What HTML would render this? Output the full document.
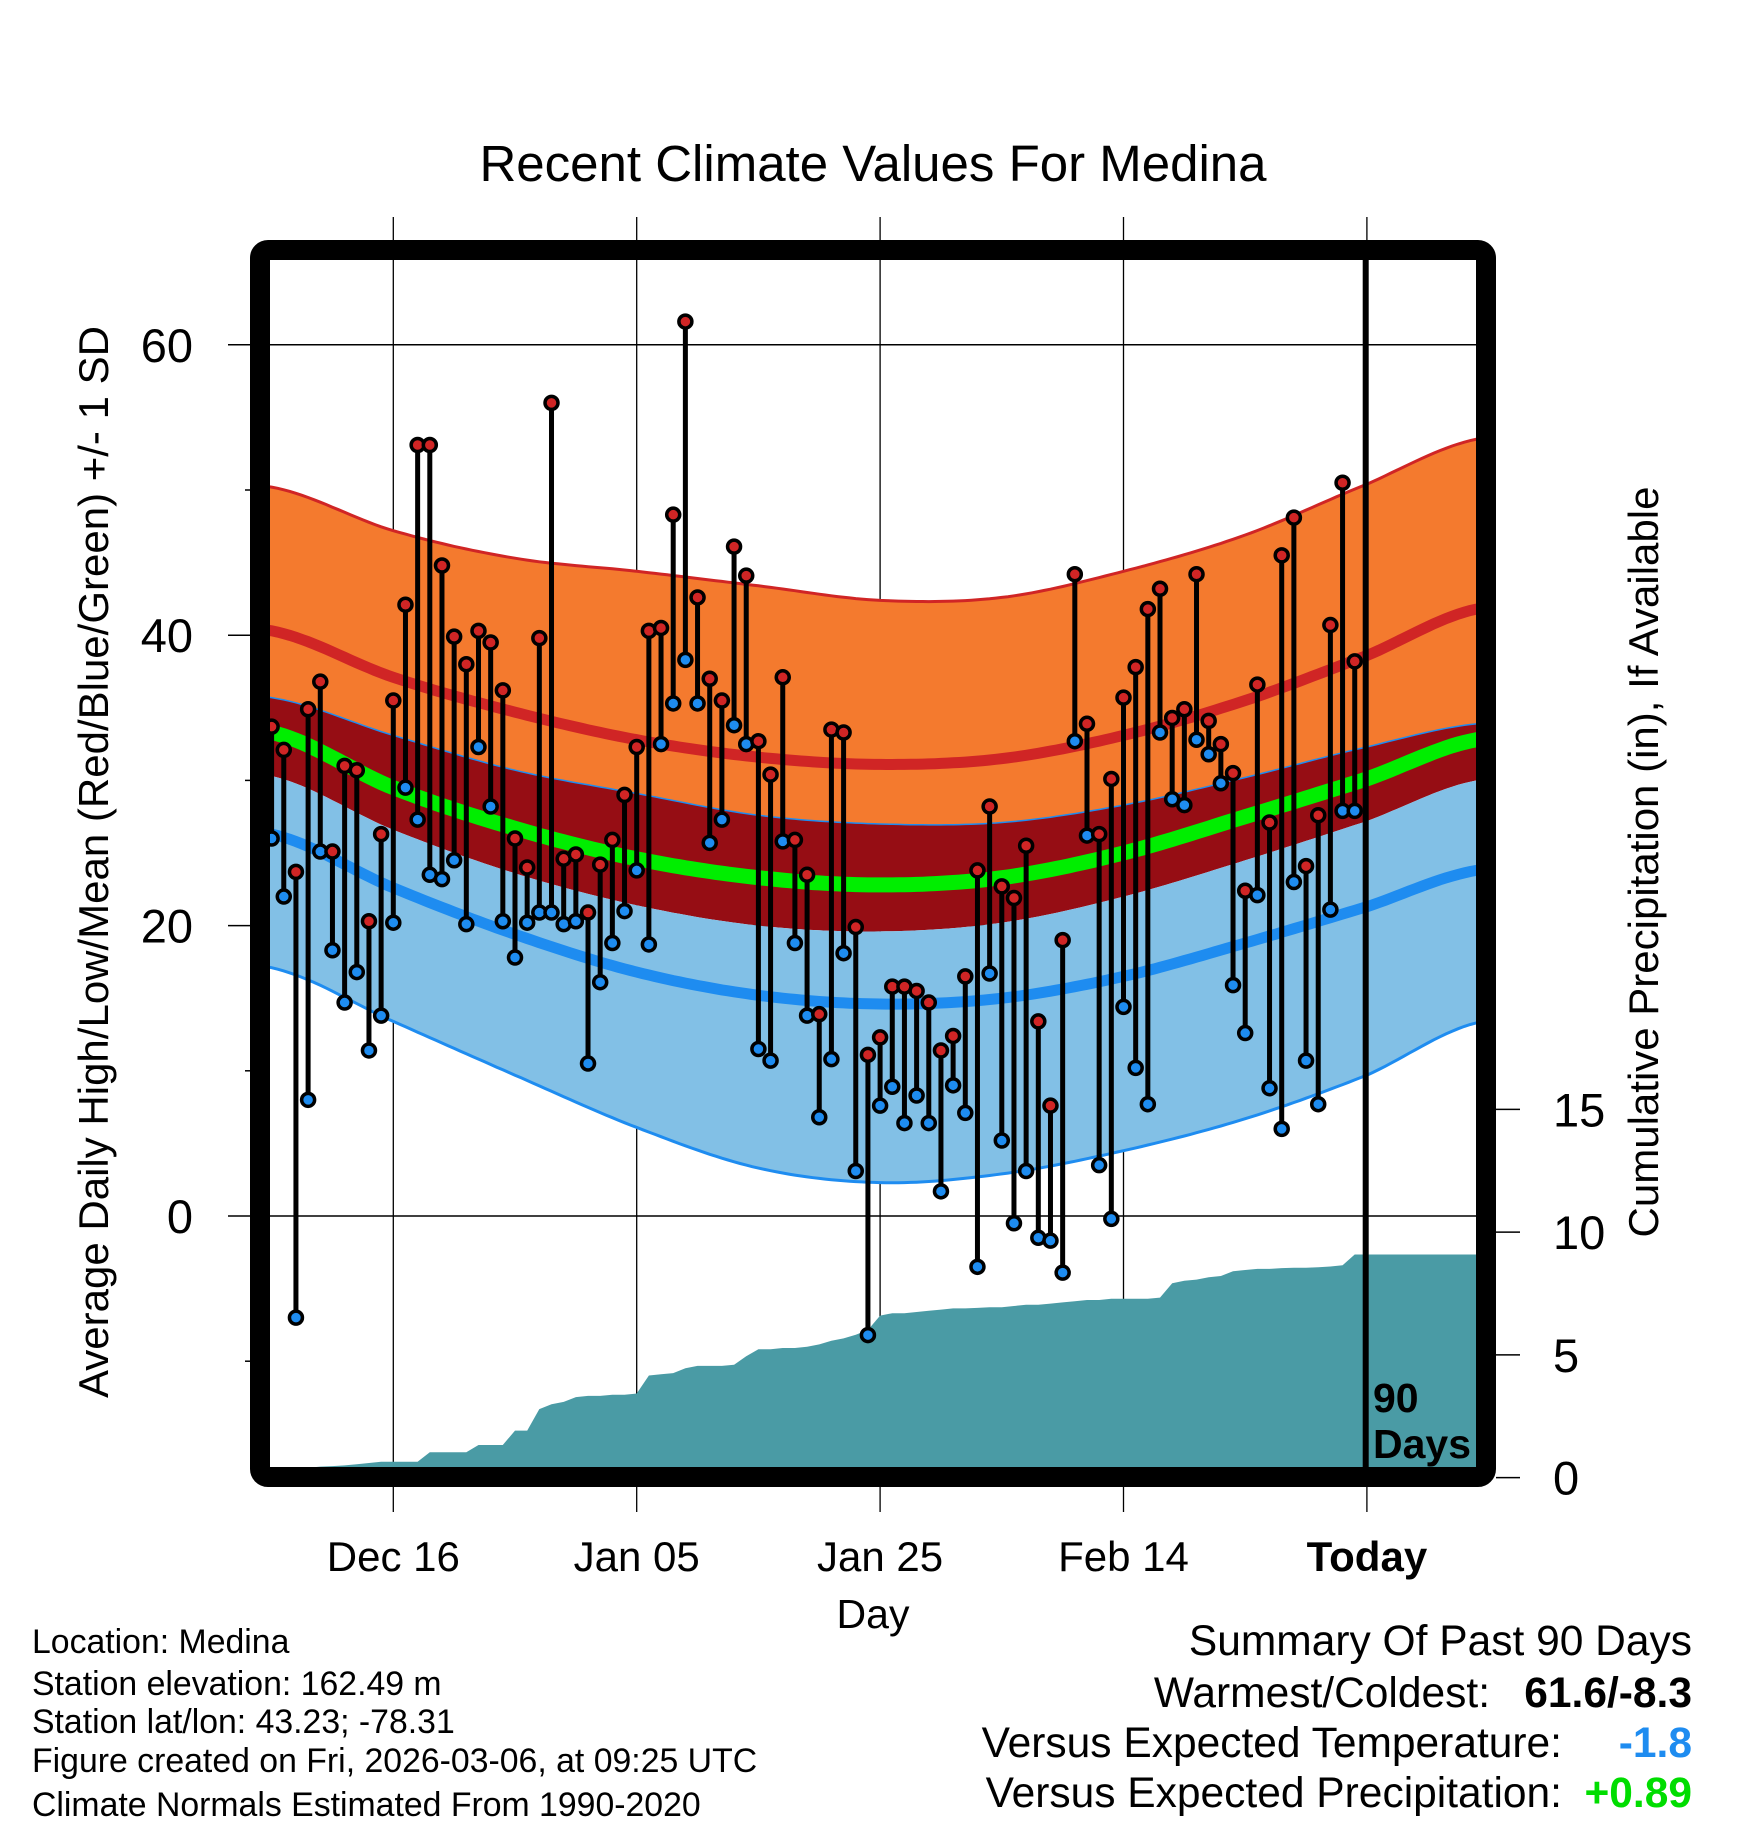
<!DOCTYPE html>
<html><head><meta charset="utf-8"><style>
html,body{margin:0;padding:0;background:#fff}
svg{display:block}
text{font-family:"Liberation Sans",Arial,sans-serif}
</style></head><body>
<svg id="chart" width="1748" height="1828" viewBox="0 0 1748 1828" xmlns="http://www.w3.org/2000/svg">
<defs><clipPath id="plotclip"><rect x="270" y="260" width="1206" height="1207"/></clipPath></defs>
<text x="873" y="181" font-size="51" text-anchor="middle">Recent Climate Values For Medina</text>
<g id="grid"></g>
<g id="bands" clip-path="url(#plotclip)"></g>
<g id="precip" clip-path="url(#plotclip)"></g>
<g id="marks"></g>
<line x1="1365.7" y1="255" x2="1365.7" y2="1472" stroke="#000" stroke-width="6"/>
<text x="1373" y="1412" font-size="41" font-weight="bold">90</text>
<text x="1373" y="1458" font-size="41" font-weight="bold">Days</text>
<rect x="260" y="250" width="1226" height="1227" rx="8" fill="none" stroke="#000" stroke-width="20"/>
<g id="axes"></g>
<text transform="translate(108,862) rotate(-90)" font-size="42" text-anchor="middle">Average Daily High/Low/Mean (Red/Blue/Green) +/- 1 SD</text>
<text transform="translate(1658,862) rotate(-90)" font-size="42" text-anchor="middle">Cumulative Precipitation (in), If Available</text>
<text x="873" y="1628" font-size="41" text-anchor="middle">Day</text>
<g font-size="33.8">
<text x="32" y="1653">Location: Medina</text>
<text x="32" y="1695">Station elevation: 162.49 m</text>
<text x="32" y="1733">Station lat/lon: 43.23; -78.31</text>
<text x="32" y="1772">Figure created on Fri, 2026-03-06, at 09:25 UTC</text>
<text x="32" y="1816">Climate Normals Estimated From 1990-2020</text>
</g>
<g font-size="42.5">
<text x="1692" y="1655" text-anchor="end">Summary Of Past 90 Days</text>
<text x="1490" y="1707" text-anchor="end">Warmest/Coldest:</text>
<text x="1692" y="1707" text-anchor="end" font-weight="bold">61.6/-8.3</text>
<text x="1562" y="1757" text-anchor="end">Versus Expected Temperature:</text>
<text x="1692" y="1757" text-anchor="end" font-weight="bold" fill="#1E8CF0">-1.8</text>
<text x="1562" y="1807" text-anchor="end">Versus Expected Precipitation:</text>
<text x="1692" y="1807" text-anchor="end" font-weight="bold" fill="#00DD00">+0.89</text>
</g>
</svg>
<script>
// day index relative to Dec 16 (data days -10 .. 79)
const startDay = -10;
const highs = [33.7,32.1,23.7,34.9,36.8,25.1,31.0,30.7,20.3,26.3,35.5,42.1,53.1,53.1,44.8,39.9,38.0,40.3,39.5,36.2,26.0,24.0,39.8,56.0,24.6,24.9,20.9,24.2,25.9,29.0,32.3,40.3,40.5,48.3,61.6,42.6,37.0,35.5,46.1,44.1,32.7,30.4,37.1,25.9,23.5,13.9,33.5,33.3,19.9,11.1,12.3,15.8,15.8,15.5,14.7,11.4,12.4,16.5,23.8,28.2,22.7,21.9,25.5,13.4,7.6,19.0,44.2,33.9,26.3,30.1,35.7,37.8,41.8,43.2,34.3,34.9,44.2,34.1,32.5,30.5,22.4,36.6,27.1,45.5,48.1,24.1,27.6,40.7,50.5,38.2];
const lows = [26.0,22.0,-7.0,8.0,25.1,18.3,14.7,16.8,11.4,13.8,20.2,29.5,27.3,23.5,23.2,24.5,20.1,32.3,28.2,20.3,17.8,20.2,20.9,20.9,20.1,20.3,10.5,16.1,18.8,21.0,23.8,18.7,32.5,35.3,38.3,35.3,25.7,27.3,33.8,32.5,11.5,10.7,25.8,18.8,13.8,6.8,10.8,18.1,3.1,-8.2,7.6,8.9,6.4,8.3,6.4,1.7,9.0,7.1,-3.5,16.7,5.2,-0.5,3.1,-1.5,-1.7,-3.9,32.7,26.2,3.5,-0.2,14.4,10.2,7.7,33.3,28.7,28.3,32.8,31.8,29.8,15.9,12.6,22.1,8.8,6.0,23.0,10.7,7.7,21.1,27.9,27.9];
const precip = [0,0,0,0.05,0.1,0.12,0.15,0.2,0.25,0.3,0.3,0.3,0.3,0.7,0.7,0.7,0.7,1.0,1.0,1.0,1.6,1.6,2.5,2.7,2.8,3.0,3.05,3.05,3.1,3.1,3.15,3.9,3.95,4.0,4.2,4.3,4.3,4.3,4.35,4.7,5.0,5.0,5.05,5.05,5.1,5.2,5.35,5.45,5.6,5.8,6.4,6.5,6.5,6.55,6.6,6.65,6.7,6.7,6.72,6.75,6.75,6.8,6.85,6.85,6.9,6.95,7.0,7.05,7.05,7.1,7.1,7.1,7.1,7.15,7.75,7.85,7.9,8.0,8.05,8.25,8.3,8.35,8.35,8.38,8.4,8.4,8.42,8.45,8.5,8.95];
// normals sampled every 10 days from day -10 to 80, plus day 89
const normDays = [-10,0,10,20,30,40,50,60,70,80,89];
const upperSD = [50.2,47.2,45.3,44.4,43.4,42.4,42.6,44.4,46.9,50.4,53.5];
const meanHigh = [40.3,37.1,34.7,32.8,31.6,31.1,31.5,33.1,35.5,38.6,41.8];
const highMinusSD = [35.7,33.1,30.7,29.1,27.6,27.0,27.1,28.3,30.2,32.3,33.9];
const meanTemp = [33.3,29.5,26.7,24.6,23.3,22.8,23.3,25.0,27.5,30.1,32.8];
const lowPlusSD = [30.3,26.6,23.6,21.4,20.0,19.6,20.2,22.0,24.5,27.2,30.0];
const meanLow = [26.3,22.6,19.4,16.8,15.2,14.6,15.0,16.5,18.8,21.3,23.8];
const lowerSD = [17.1,13.4,9.7,6.1,3.3,2.3,2.9,4.5,6.7,9.7,13.3];
const xTickDays = [0,20,40,60,80];
const xTickLabels = ["Dec 16","Jan 05","Jan 25","Feb 14","Today"];
const yTicks = [0,20,40,60];
const yMinor = [-10,10,30,50];
const pTicks = [0,5,10,15];

const NS="http://www.w3.org/2000/svg";
const X = d => 393.3 + d*12.17;
const Y = t => 1216 - t*14.52;
const P = p => 1469 - p*23.97;
function mk(tag, attrs, parent){const e=document.createElementNS(NS,tag);for(const k in attrs)e.setAttribute(k,attrs[k]);parent.appendChild(e);return e;}

function interp(arr, d){
  let i=0; while(i<normDays.length-2 && d>normDays[i+1]) i++;
  const d0=normDays[i], d1=normDays[i+1], t=(d-d0)/(d1-d0);
  const p0=arr[Math.max(0,i-1)], p1=arr[i], p2=arr[i+1], p3=arr[Math.min(arr.length-1,i+2)];
  return 0.5*((2*p1)+(-p0+p2)*t+(2*p0-5*p1+4*p2-p3)*t*t+(-p0+3*p1-3*p2+p3)*t*t*t);
}
const ds=[]; for(let d=-11; d<=90.5; d+=0.5) ds.push(d);
function curve(arr){return ds.map(d=>[X(d),Y(interp(arr,d))]);}
function band(a,b,fill,name){
  const top=curve(a), bot=curve(b).reverse();
  const pts=top.concat(bot).map(p=>p[0].toFixed(1)+','+p[1].toFixed(1)).join(' ');
  const el=mk('polygon',{points:pts,fill:fill},document.getElementById('bands'));
  
  
}
function line(arr,color,w,name){
  const pts=curve(arr).map(p=>p[0].toFixed(1)+','+p[1].toFixed(1)).join(' ');
  const el=mk('polyline',{points:pts,fill:'none',stroke:color,'stroke-width':w},document.getElementById('bands'));
  
  
}
band(upperSD,highMinusSD,'#F47A2E','high-sd-band');
band(highMinusSD,lowPlusSD,'#960D14','mean-band');
band(lowPlusSD,lowerSD,'#82C0E6','low-sd-band');
line(upperSD,'#D02525',3,'upper-sd-line');
line(meanHigh,'#D02525',11,'mean-high-line');
line(highMinusSD,'#1E8CF0',1.5,'high-minus-sd-line');
line(meanTemp,'#00EE00',15,'mean-temp-line');
line(meanLow,'#1E8CF0',11,'mean-low-line');
line(lowerSD,'#1E8CF0',3,'lower-sd-line');

const g=document.getElementById('grid');
xTickDays.forEach(d=>{const l=mk('line',{x1:X(d),y1:217,x2:X(d),y2:1512,stroke:'#000','stroke-width':1.3},g);
  
  });
yTicks.forEach(t=>{const l=mk('line',{x1:228,y1:Y(t),x2:1476,y2:Y(t),stroke:'#000','stroke-width':1.5},g);
  
  });

const pp=[[X(startDay),P(0)]];
precip.forEach((v,i)=>pp.push([X(startDay+i),P(v)]));
pp.push([1480,P(precip[precip.length-1])]);pp.push([1480,1480]);pp.push([X(startDay),1480]);
const pel=mk('polygon',{points:pp.map(p=>p[0].toFixed(1)+','+p[1].toFixed(1)).join(' '),fill:'#4A9BA5'},document.getElementById('precip'));



const m=document.getElementById('marks');
highs.forEach((h,i)=>{
  const x=X(startDay+i), lo=lows[i];
  const st=mk('line',{x1:x,y1:Y(h),x2:x,y2:Y(lo),stroke:'#000','stroke-width':5},m);
  
  
});
highs.forEach((h,i)=>{
  const x=X(startDay+i), lo=lows[i];
  const c1=mk('circle',{cx:x,cy:Y(lo),r:6.5,fill:'#1E8CF0',stroke:'#000','stroke-width':3.5},m);
  
  
  const c2=mk('circle',{cx:x,cy:Y(h),r:6.5,fill:'#D02525',stroke:'#000','stroke-width':3.5},m);
  
  
});

const a=document.getElementById('axes');
yTicks.forEach(t=>{const e=mk('text',{x:193,y:Y(t)+17,'font-size':47,'text-anchor':'end'},a);e.textContent=t;
  
  });
yMinor.forEach(t=>{const l=mk('line',{x1:245,y1:Y(t),x2:252,y2:Y(t),stroke:'#000','stroke-width':1.5},a);
  
  });
pTicks.forEach(p=>{const yy=1477.6-p*24.55;
  const l=mk('line',{x1:1496,y1:yy,x2:1520,y2:yy,stroke:'#000','stroke-width':1.5},a);
  
  
  const e=mk('text',{x:1553,y:yy+17,'font-size':47},a);e.textContent=p;
  
  });
xTickDays.forEach((d,i)=>{const e=mk('text',{x:X(d),y:1571,'font-size':42,'text-anchor':'middle'},a);e.textContent=xTickLabels[i];
  if(xTickLabels[i]==='Today')e.setAttribute('font-weight','bold');
  
  });
</script>
</body></html>
